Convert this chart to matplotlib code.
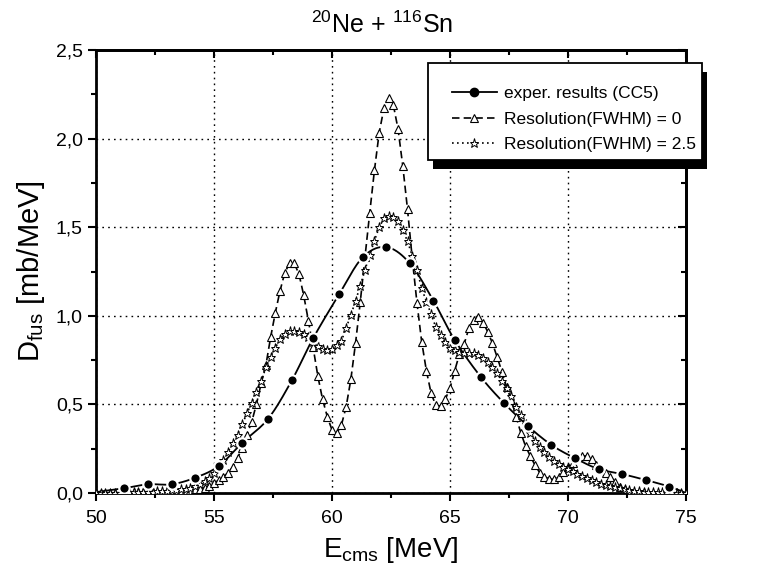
import numpy as np
import matplotlib
matplotlib.use('Agg')
import matplotlib.pyplot as plt
from matplotlib.lines import Line2D
from matplotlib.patches import Rectangle
from matplotlib.transforms import IdentityTransform
from matplotlib.ticker import MultipleLocator, FuncFormatter, NullFormatter

plt.rcParams['font.family'] = 'Liberation Sans'
plt.rcParams['mathtext.fontset'] = 'custom'
plt.rcParams['mathtext.rm'] = 'Liberation Sans'
plt.rcParams['mathtext.it'] = 'Liberation Sans:italic'

# experimental results (CC5), filled circles
exp_x = [51.2, 52.2, 53.2, 54.2, 55.2, 56.2, 57.3, 58.3, 59.2, 60.3, 61.3, 62.3,
         63.3, 64.3, 65.2, 66.3, 67.3, 68.3, 69.3, 70.3, 71.3, 72.3, 73.3, 74.3]
exp_y = [0.027, 0.049, 0.049, 0.086, 0.152, 0.284, 0.420, 0.636, 0.873, 1.121, 1.330, 1.388,
         1.296, 1.085, 0.863, 0.656, 0.506, 0.378, 0.271, 0.196, 0.135, 0.107, 0.073, 0.036]
# where the smooth line starts and ends
exp_ends_x = [50.0, 75.0]
exp_ends_y = [0.005, 0.0]

# energy grid of the two resolution curves
grid = np.linspace(50, 75, 126)

fwhm0 = [0.000, 0.000, 0.000, 0.001, 0.001, 0.002, 0.002, 0.003, 0.003, 0.004,
         0.004, 0.005, 0.006, 0.007, 0.008, 0.009, 0.010, 0.012, 0.013, 0.015,
         0.017, 0.020, 0.024, 0.030, 0.040, 0.055, 0.073, 0.092, 0.115, 0.148,
         0.198, 0.255, 0.330, 0.402, 0.502, 0.619, 0.722, 0.879, 1.018, 1.142,
         1.243, 1.296, 1.296, 1.236, 1.117, 0.972, 0.822, 0.660, 0.529, 0.431,
         0.356, 0.337, 0.384, 0.487, 0.642, 0.848, 1.080, 1.334, 1.582, 1.823,
         2.033, 2.171, 2.227, 2.190, 2.053, 1.845, 1.601, 1.325, 1.074, 0.854,
         0.690, 0.563, 0.494, 0.491, 0.529, 0.591, 0.690, 0.784, 0.841, 0.929,
         0.976, 0.995, 0.961, 0.910, 0.845, 0.766, 0.685, 0.596, 0.525, 0.431,
         0.340, 0.265, 0.209, 0.158, 0.115, 0.092, 0.080, 0.077, 0.089, 0.120,
         0.148, 0.171, 0.201, 0.209, 0.209, 0.190, 0.158, 0.134, 0.115, 0.092,
         0.064, 0.036, 0.021, 0.012, 0.008, 0.005, 0.003, 0.002, 0.001, 0.001,
         0.001, 0.000, 0.000, 0.000, 0.000, 0.000]

fwhm25 = [0.000, 0.000, 0.001, 0.001, 0.002, 0.002, 0.003, 0.003, 0.004, 0.005,
          0.006, 0.007, 0.008, 0.010, 0.012, 0.014, 0.016, 0.018, 0.020, 0.022,
          0.028, 0.040, 0.051, 0.068, 0.086, 0.111, 0.145, 0.186, 0.233, 0.282,
          0.330, 0.390, 0.450, 0.510, 0.572, 0.630, 0.710, 0.770, 0.820, 0.867,
          0.900, 0.914, 0.916, 0.908, 0.895, 0.878, 0.855, 0.832, 0.815, 0.807,
          0.812, 0.835, 0.858, 0.932, 1.005, 1.085, 1.170, 1.260, 1.345, 1.425,
          1.500, 1.550, 1.563, 1.555, 1.533, 1.485, 1.420, 1.340, 1.260, 1.155,
          1.080, 1.010, 0.935, 0.890, 0.850, 0.820, 0.805, 0.796, 0.792, 0.792,
          0.788, 0.779, 0.760, 0.742, 0.712, 0.675, 0.632, 0.590, 0.545, 0.485,
          0.440, 0.390, 0.337, 0.296, 0.262, 0.230, 0.202, 0.180, 0.162, 0.145,
          0.133, 0.122, 0.108, 0.096, 0.084, 0.074, 0.063, 0.053, 0.046, 0.039,
          0.033, 0.027, 0.022, 0.017, 0.013, 0.010, 0.008, 0.006, 0.005, 0.004,
          0.003, 0.002, 0.002, 0.001, 0.001, 0.000]

labels = ['exper. results (CC5)', 'Resolution(FWHM) = 0', 'Resolution(FWHM) = 2.5']


def catmull_rom(xs, ys, n=20):
    # smooth line through the points, like the spline connector in Origin
    px = np.concatenate([[2 * xs[0] - xs[1]], xs, [2 * xs[-1] - xs[-2]]])
    py = np.concatenate([[2 * ys[0] - ys[1]], ys, [2 * ys[-1] - ys[-2]]])
    t = np.linspace(0, 1, n, endpoint=False)
    outx, outy = [], []
    for i in range(1, len(px) - 2):
        for p, out in ((px, outx), (py, outy)):
            p0, p1, p2, p3 = p[i - 1], p[i], p[i + 1], p[i + 2]
            out.extend(0.5 * (2 * p1 + (-p0 + p2) * t + (2 * p0 - 5 * p1 + 4 * p2 - p3) * t ** 2
                              + (-p0 + 3 * p1 - 3 * p2 + p3) * t ** 3))
    outx.append(xs[-1])
    outy.append(ys[-1])
    return np.array(outx), np.array(outy)


fig = plt.figure(figsize=(7.57, 5.71), dpi=100)
ax = fig.add_axes([0.1268, 0.1366, 0.7794, 0.7758])

line_x = np.array([exp_ends_x[0]] + exp_x + [exp_ends_x[1]])
line_y = np.array([exp_ends_y[0]] + exp_y + [exp_ends_y[1]])
sx, sy = catmull_rom(line_x, line_y)
ax.plot(sx, sy, color='black', lw=1.3, zorder=3)
# white rings give the small gap between line and symbol
ax.plot(exp_x, exp_y, 'o', color='black', ms=7.5, mec='white', mew=1.6, zorder=4)

ax.plot(grid, fwhm0, color='black', lw=1.2, ls=(0, (4.5, 2.5)), marker='^', ms=6,
        mfc='white', mec='black', mew=0.8, zorder=3)
ax.plot(grid, fwhm25, color='black', lw=1.2, ls=(0, (1, 2)), marker='*', ms=6.5,
        mfc='white', mec='black', mew=0.7, zorder=3)

ax.set_xlim(50, 75)
ax.set_ylim(0, 2.5)
ax.xaxis.set_major_locator(MultipleLocator(5))
ax.xaxis.set_minor_locator(MultipleLocator(2.5))
ax.yaxis.set_major_locator(MultipleLocator(0.5))
ax.yaxis.set_minor_locator(MultipleLocator(0.25))
ax.yaxis.set_major_formatter(FuncFormatter(lambda v, p: f'{v:.1f}'.replace('.', ',')))
ax.grid(True, which='major', color='black', ls=(0, (1.2, 3)), lw=1.0)

for s in ax.spines.values():
    s.set_linewidth(2)
ax.tick_params(which='both', direction='out', labelsize=14, width=1.5)
ax.tick_params(which='major', length=6)
ax.tick_params(which='minor', length=3.5)
ax.tick_params(axis='x', pad=6)

# top and right axes: ticks pointing inwards, no labels
top = ax.secondary_xaxis('top')
right = ax.secondary_yaxis('right')
for sec, axis in ((top, top.xaxis), (right, right.yaxis)):
    axis.set_major_locator(MultipleLocator(5 if sec is top else 0.5))
    axis.set_minor_locator(MultipleLocator(2.5 if sec is top else 0.25))
    axis.set_major_formatter(NullFormatter())
    sec.tick_params(which='both', direction='in', width=1.5)
    sec.tick_params(which='major', length=6)
    sec.tick_params(which='minor', length=3.5)
    for s in sec.spines.values():
        s.set_linewidth(2)

ax.set_xlabel(r'E$_\mathrm{cms}$ [MeV]', fontsize=20, labelpad=6)
ax.set_ylabel(r'D$_\mathrm{fus}$ [mb/MeV]', fontsize=21, labelpad=6)
ax.set_title(r'$^{20}$Ne + $^{116}$Sn', fontsize=18, pad=12, x=0.485)

handles = [
    Line2D([], [], color='black', lw=1.3, marker='o', ms=6),
    Line2D([], [], color='black', lw=1.2, ls=(0, (4.5, 2.5)), marker='^', ms=6, mfc='white', mew=0.8),
    Line2D([], [], color='black', lw=1.2, ls=(0, (1, 2)), marker='*', ms=6.5, mfc='white', mew=0.7),
]
leg = ax.legend(handles, labels, loc='upper left', bbox_to_anchor=(0.597, 0.849),
                bbox_transform=fig.transFigure, fontsize=12.5, frameon=False,
                borderaxespad=0, handlelength=2.6, handletextpad=0.4,
                labelspacing=0.58, borderpad=0, numpoints=1)
leg.set_zorder(10)

# Origin-style legend box: extra room on the left and top, black drop shadow
fig.canvas.draw()
bb = leg.get_window_extent()
fx0, fx1 = bb.x0 - 24, bb.x1 + 6
fy0, fy1 = bb.y0 - 8, bb.y1 + 23
ax.add_patch(Rectangle((fx0 + 5, fy0 - 9), fx1 - fx0, fy1 - fy0, transform=IdentityTransform(),
                       facecolor='black', edgecolor='none', clip_on=False, zorder=8))
ax.add_patch(Rectangle((fx0, fy0), fx1 - fx0, fy1 - fy0, transform=IdentityTransform(),
                       facecolor='white', edgecolor='black', lw=1.3, clip_on=False, zorder=9))

fig.savefig('out.png', dpi=100)
